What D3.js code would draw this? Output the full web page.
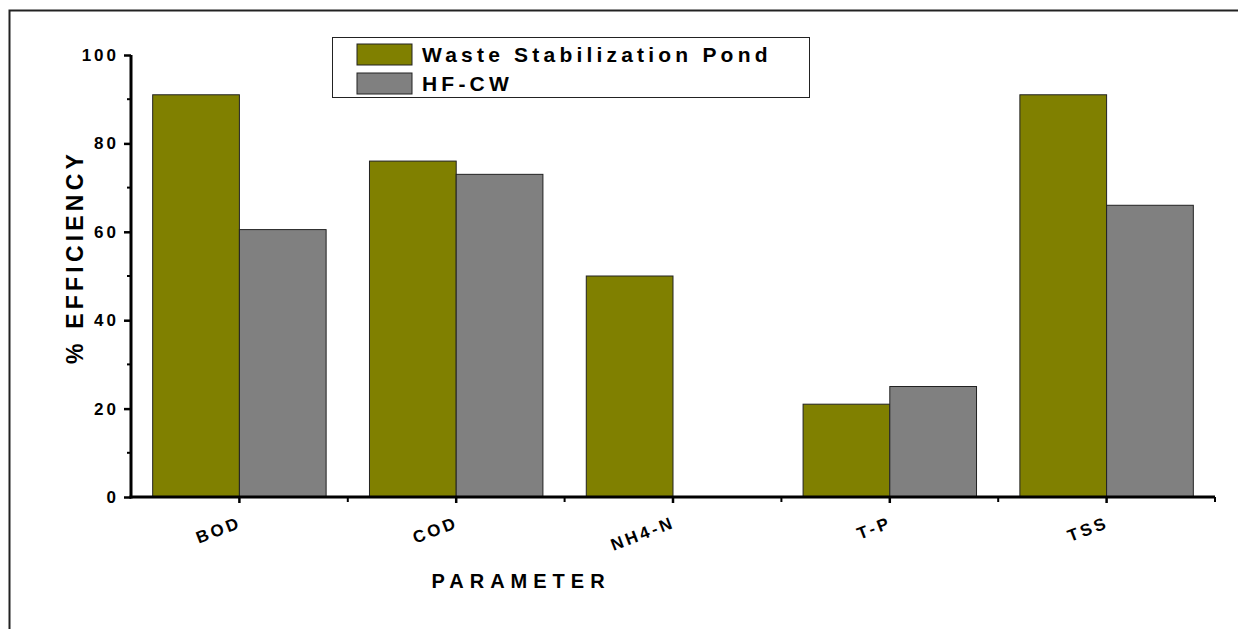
<!DOCTYPE html>
<html>
<head>
<meta charset="utf-8">
<script src="https://cdn.jsdelivr.net/npm/d3@7"></script>
<style>
  body { margin: 0; background: #fff; }
  svg text { font-family: "Liberation Sans", Arial, sans-serif; font-weight: bold; fill: #000; }
</style>
</head>
<body>
<div id="chart"></div>
<script>
// data
const categories = ["BOD", "COD", "NH4-N", "T-P", "TSS"];
const seriesNames = ["Waste Stabilization Pond", "HF-CW"];
const pondValues = [91, 76, 50, 21, 91];
const hfcwValues = [60.5, 73, 0, 25, 66];
const yTicks = [0, 20, 40, 60, 80, 100];
const colors = ["#808000", "#808080"];

const W = 1238, H = 629;
const margin = {top: 55, right: 23, bottom: 132, left: 131};

let svg = d3.select("#chart").append("svg")
    .attr("width", W)
    .attr("height", H);

// outer frame (only top and left visible in the original)
svg.append("rect")
    .attr("x", 9.5)
    .attr("y", 10.5)
    .attr("width", W + 20)
    .attr("height", H + 20)
    .style("fill", "none")
    .style("stroke", "#222")
    .style("stroke-width", 2);

let x = d3.scaleBand()
    .domain(categories)
    .range([margin.left, W - margin.right])
    .paddingInner(0)
    .paddingOuter(0);

let y = d3.scaleLinear()
    .domain([0, 100])
    .range([H - margin.bottom, margin.top]);

let inner = d3.scaleBand()
    .domain(seriesNames)
    .range([x.bandwidth() * 0.1, x.bandwidth() * 0.9]);

let rows = categories.map((c, i) => ({cat: c, vals: [pondValues[i], hfcwValues[i]]}));

// bars
let groups = svg.selectAll("g.grp")
    .data(rows)
    .enter()
    .append("g")
    .attr("class", "grp")
    .attr("transform", d => "translate(" + x(d.cat) + ",0)");

groups.selectAll("rect")
    .data(d => d.vals.map((v, j) => ({name: seriesNames[j], v: v, j: j})))
    .enter()
    .append("rect")
    .filter(d => d.v > 0)
    .attr("x", d => inner(d.name))
    .attr("y", d => y(d.v))
    .attr("width", inner.bandwidth())
    .attr("height", d => y(0) - y(d.v))
    .style("fill", d => colors[d.j])
    .style("stroke", "#222")
    .style("stroke-width", 1);

// y axis
let yAxis = svg.append("g")
    .attr("transform", "translate(" + margin.left + ",0)")
    .call(d3.axisLeft(y).tickValues(yTicks).tickSize(7).tickSizeOuter(0).tickPadding(5));
yAxis.select(".domain").style("stroke-width", 3).attr("d", "M0," + (y(0) + 1.5) + "V" + y(100));
yAxis.selectAll(".tick line").style("stroke-width", 2.5);
yAxis.selectAll(".tick text")
    .style("font-size", "17px")
    .style("letter-spacing", "3px")
    .style("font-family", "Liberation Sans, Arial, sans-serif");

// y minor ticks
svg.append("g").selectAll("line")
    .data([10, 30, 50, 70, 90])
    .enter()
    .append("line")
    .attr("x1", margin.left - 4)
    .attr("x2", margin.left)
    .attr("y1", d => y(d))
    .attr("y2", d => y(d))
    .style("stroke", "#000")
    .style("stroke-width", 2);

// x axis
let xAxis = svg.append("g")
    .attr("transform", "translate(0," + y(0) + ")")
    .call(d3.axisBottom(x).tickSize(6).tickSizeOuter(0).tickFormat(""));
xAxis.select(".domain").style("stroke-width", 3).attr("d", "M" + (margin.left - 1.5) + ",0H" + (W - margin.right));
xAxis.selectAll(".tick line").style("stroke-width", 2.5);

// x minor ticks at band edges
svg.append("g").selectAll("line")
    .data(categories.slice(1).concat(["end"]))
    .enter()
    .append("line")
    .attr("x1", d => d === "end" ? W - margin.right : x(d))
    .attr("x2", d => d === "end" ? W - margin.right : x(d))
    .attr("y1", y(0))
    .attr("y2", y(0) + 5)
    .style("stroke", "#000")
    .style("stroke-width", 2);

// rotated category labels
svg.append("g").selectAll("text")
    .data(categories)
    .enter()
    .append("text")
    .attr("text-anchor", "end")
    .attr("transform", d => "translate(" + (x(d) + x.bandwidth() / 2 + 3) + "," + (y(0) + 30) + ") rotate(-21)")
    .style("font-size", "17px")
    .style("letter-spacing", "3px")
    .text(d => d);

// axis titles
svg.append("text")
    .attr("text-anchor", "middle")
    .attr("transform", "translate(83," + 257 + ") rotate(-90)")
    .style("font-size", "23px")
    .style("letter-spacing", "4.2px")
    .text("% EFFICIENCY");

svg.append("text")
    .attr("text-anchor", "middle")
    .attr("x", 521)
    .attr("y", 588)
    .style("font-size", "20px")
    .style("letter-spacing", "6px")
    .text("PARAMETER");

// legend
let legend = svg.append("g");
legend.append("rect")
    .attr("x", 332.5)
    .attr("y", 37.5)
    .attr("width", 477)
    .attr("height", 60)
    .style("fill", "#fff")
    .style("stroke", "#222")
    .style("stroke-width", 1);

let items = legend.selectAll("g.item")
    .data(seriesNames)
    .enter()
    .append("g")
    .attr("class", "item")
    .attr("transform", (d, i) => "translate(357," + (44 + i * 29) + ")");

items.append("rect")
    .attr("width", 55)
    .attr("height", 21)
    .style("fill", (d, i) => colors[i])
    .style("stroke", "#222")
    .style("stroke-width", 1);

items.append("text")
    .attr("x", 65)
    .attr("y", 17.5)
    .style("font-size", "21px")
    .style("letter-spacing", "4.2px")
    .text(d => d);
</script>
</body>
</html>
